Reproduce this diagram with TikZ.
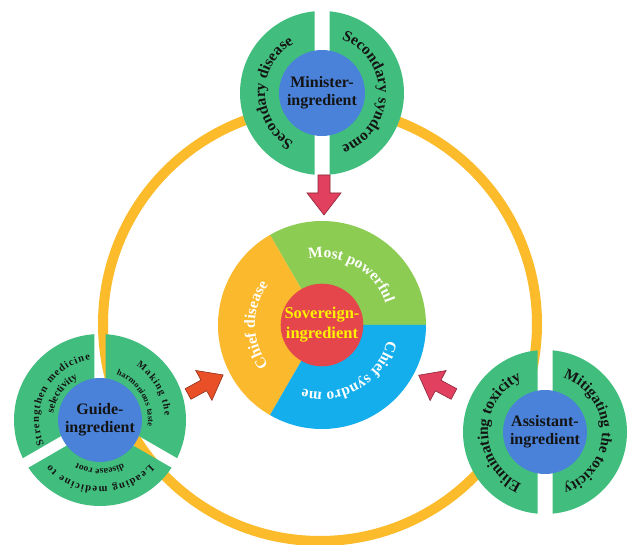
\documentclass[tikz,border=0pt]{standalone}
\usepackage{fontspec}
\setmainfont{Liberation Serif}
\usetikzlibrary{decorations.text}

\definecolor{ringgold}{HTML}{FBBB2B}
\definecolor{leafgreen}{HTML}{41BE7D}
\definecolor{corebl}{HTML}{4A82DA}
\definecolor{sovgreen}{HTML}{8CCC52}
\definecolor{sovyellow}{HTML}{FBB92D}
\definecolor{sovblue}{HTML}{14AEEC}
\definecolor{sovred}{HTML}{E4464B}
\definecolor{arrowpink}{HTML}{E2405F}
\definecolor{arroworange}{HTML}{EA5028}
\definecolor{sovtext}{HTML}{FFF200}
\definecolor{inktext}{HTML}{141414}

\newcommand\fs[1]{\bfseries\fontsize{#1}{#1}\selectfont}

% text set on a clockwise arc around a centre
% #1 centre, #2 radius, #3 start angle, #4 end angle, #5 size, #6 colour, #7 alignment, #8 text
\newcommand\curvedlabel[8]{%
  \path[decorate, decoration={text along path, text align={#7}, text color=#6,
      text={|\fs{#5}|#8}}]
    ([shift={(#3:#2)}]#1) arc[start angle=#3, end angle=#4, radius=#2];}

% block arrow starting at a tail coordinate, turned by an angle
\newcommand\blockarrow[3]{%
  \filldraw[fill=#3, draw=#3!60!black, line width=0.6pt, line join=miter,
      shift={(#1)}, rotate=#2]
    (0,-6) -- (18,-6) -- (18,-17) -- (40,0) -- (18,17) -- (18,6) -- (0,6) -- cycle;}

\tikzset{
  core/.style={circle, fill=corebl, inner sep=0pt, align=center, text=inktext,
    font=\bfseries\fontsize{16}{18}\selectfont},
  leaf/.style={fill=leafgreen}
}

\begin{document}
\begin{tikzpicture}[x=1pt, y=1pt]
\useasboundingbox (0,0) rectangle (635,544);
\fill[white] (0,0) rectangle (635,544);

\coordinate (cRing) at (320,220);
\coordinate (cSov) at (322,219);
\coordinate (cMin) at (322,451);
\coordinate (cGui) at (100,124);
\coordinate (cAss) at (545,112);

% golden ring linking the three groups
\draw[ringgold, line width=10pt] (cRing) circle[radius=217];

% ---- minister group: two halves split by a vertical gap
\begin{scope}[shift={(cMin)}]
  \begin{scope}
    \clip (-100,-100) rectangle (-7.5,100);
    \fill[leaf] (0,0) circle[radius=82];
  \end{scope}
  \begin{scope}
    \clip (7.5,-100) rectangle (100,100);
    \fill[leaf] (0,0) circle[radius=82];
  \end{scope}
\end{scope}
\node[core, minimum size=86pt] (minister) at (cMin) {Minister-\\ingredient};
\curvedlabel{cMin}{57}{252}{108}{15.5}{inktext}{center}{Secondary disease}
\curvedlabel{cMin}{57}{84}{-84}{15.5}{inktext}{center}{Secondary syndrome}

% ---- assistant group
\begin{scope}[shift={(cAss)}]
  \begin{scope}
    \clip (-100,-100) rectangle (-7.5,100);
    \fill[leaf] (0,0) circle[radius=82];
  \end{scope}
  \begin{scope}
    \clip (7.5,-100) rectangle (100,100);
    \fill[leaf] (0,0) circle[radius=82];
  \end{scope}
\end{scope}
\node[core, minimum size=84pt] (assistant) at (cAss) {Assistant-\\ingredient};
\curvedlabel{cAss}{57}{252}{108}{15.5}{inktext}{center}{Eliminating toxicity}
\curvedlabel{cAss}{57}{86}{-86}{15}{inktext}{center}{Mitigating the toxicity}

% ---- guide group: three sectors separated by gaps at 90, 210 and 330 degrees
\begin{scope}[shift={(cGui)}]
  \foreach \m in {30,150,270}{
    \begin{scope}
      \clip (\m:6.4) -- +({\m-60}:300) -- +(\m:500) -- +({\m+60}:300) -- cycle;
      \fill[leaf] (0,0) circle[radius=86];
    \end{scope}
  }
\end{scope}
\node[core, minimum size=84pt] (guide) at (cGui) {Guide-\\ingredient};
\curvedlabel{cGui}{61}{204}{99}{10.5}{inktext}{fit to path}{Strengthen medicine}
\curvedlabel{cGui}{47}{178}{112}{10.5}{inktext}{center}{selectivity}
\curvedlabel{cGui}{65}{56}{4}{10}{inktext}{fit to path}{Making the}
\curvedlabel{cGui}{48}{70}{-8}{8.5}{inktext}{fit to path}{harmonious taste}
\curvedlabel{cGui}{67}{-42}{-138}{10.5}{inktext}{fit to path}{Leading medicine to}
\curvedlabel{cGui}{49}{-56}{-124}{9.5}{inktext}{center}{disease root}

% ---- sovereign group: three coloured sectors around the red core
\fill[sovgreen] (cSov) -- ++(0:104) arc[start angle=0, end angle=120, radius=104] -- cycle;
\fill[sovyellow] (cSov) -- ++(120:104) arc[start angle=120, end angle=240, radius=104] -- cycle;
\fill[sovblue] (cSov) -- ++(240:104) arc[start angle=240, end angle=360, radius=104] -- cycle;
\node[circle, fill=sovred, minimum size=74pt, inner sep=0pt, align=center, text=sovtext,
  font=\bfseries\fontsize{16.5}{20}\selectfont] (sovereign) at (cSov) {Sovereign-\\ingredient};
\curvedlabel{cSov}{67}{112}{8}{15.5}{white}{center}{Most powerful}
\curvedlabel{cSov}{67}{235}{125}{15.5}{white}{center}{Chief disease}
\curvedlabel{cSov}{67}{0}{-120}{15.5}{white}{center}{Chief syndro me}

% ---- block arrows pointing at the sovereign group
\coordinate (tailTop) at (324,369);
\coordinate (tailLeft) at (188,150);
\coordinate (tailRight) at (454,150);
\blockarrow{tailTop}{-90}{arrowpink}
\blockarrow{tailLeft}{28.5}{arroworange}
\blockarrow{tailRight}{152}{arrowpink}
\end{tikzpicture}
\end{document}
